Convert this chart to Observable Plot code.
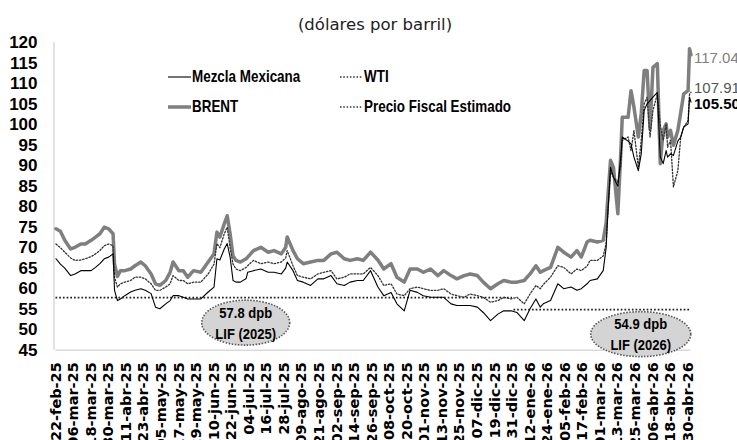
<!DOCTYPE html>
<html><head><meta charset="utf-8">
<script src="https://cdn.jsdelivr.net/npm/d3@7"></script>
<script src="https://cdn.jsdelivr.net/npm/@observablehq/plot@0.6"></script>
<style>
body{margin:0;background:#fff;}
#wrap{position:relative;width:737px;height:440px;overflow:hidden;background:#fff;}
#wrap svg{position:absolute;left:0;top:0;}
#title{position:absolute;top:15px;left:375px;transform:translateX(-50%);font:16.5px "DejaVu Sans",sans-serif;color:#222;white-space:nowrap;z-index:2;}
</style></head><body>
<div id="wrap"><div id="title">(dólares por barril)</div></div>
<script>
const dates = ["2025-02-22","2025-02-25","2025-02-28","2025-03-04","2025-03-07","2025-03-11","2025-03-14","2025-03-18","2025-03-21","2025-03-24",
"2025-03-27","2025-03-30","2025-04-02","2025-04-03","2025-04-05","2025-04-07","2025-04-10","2025-04-14","2025-04-17","2025-04-21",
"2025-04-24","2025-04-28","2025-05-01","2025-05-04","2025-05-08","2025-05-11","2025-05-13","2025-05-17","2025-05-20","2025-05-23",
"2025-05-27","2025-06-01","2025-06-06","2025-06-10","2025-06-12","2025-06-14","2025-06-17","2025-06-19","2025-06-21","2025-06-23",
"2025-06-25","2025-06-28","2025-07-02","2025-07-03","2025-07-07","2025-07-12","2025-07-17","2025-07-21","2025-07-26","2025-07-29",
"2025-07-30","2025-08-03","2025-08-06","2025-08-10","2025-08-15","2025-08-20","2025-08-24","2025-08-29","2025-09-02","2025-09-07",
"2025-09-11","2025-09-16","2025-09-20","2025-09-25","2025-09-30","2025-10-04","2025-10-09","2025-10-13","2025-10-18","2025-10-22",
"2025-10-27","2025-10-31","2025-11-05","2025-11-10","2025-11-14","2025-11-19","2025-11-23","2025-11-28","2025-12-02","2025-12-07",
"2025-12-11","2025-12-16","2025-12-21","2025-12-25","2025-12-30","2026-01-03","2026-01-08","2026-01-12","2026-01-16","2026-01-19",
"2026-01-21","2026-01-26","2026-01-31","2026-02-04","2026-02-09","2026-02-13","2026-02-16","2026-02-20","2026-02-22","2026-02-27",
"2026-03-03","2026-03-05","2026-03-06","2026-03-08","2026-03-10","2026-03-13","2026-03-15","2026-03-16","2026-03-20","2026-03-22",
"2026-03-24","2026-03-27","2026-03-29","2026-03-31","2026-04-02","2026-04-04","2026-04-06","2026-04-09","2026-04-11","2026-04-13",
"2026-04-15","2026-04-16","2026-04-18","2026-04-20","2026-04-23","2026-04-25","2026-04-27","2026-04-30","2026-05-01","2026-05-02"];

const brent = [74.6,74.0,71.8,69.7,70.1,70.9,70.9,71.8,72.6,73.4,
75.0,74.6,73.4,66.0,63.0,64.4,64.4,64.8,65.6,66.5,
65.6,63.6,61.2,60.8,62.0,64.0,66.5,64.4,64.4,62.8,
64.4,64.0,66.5,68.5,73.8,72.6,75.8,77.8,73.4,68.0,
66.9,66.5,67.3,67.7,69.3,70.1,68.9,69.3,68.5,70.1,
72.6,69.3,67.3,66.1,66.5,66.9,66.9,68.5,68.9,67.3,
66.9,67.3,66.9,68.9,67.0,64.8,66.1,62.8,61.6,64.8,
64.8,64.0,64.8,63.2,64.4,63.2,62.4,63.2,63.6,63.2,
61.6,60.0,61.2,62.0,61.6,61.6,62.0,63.6,65.6,64.0,
64.4,65.2,70.1,68.9,67.7,69.3,67.7,71.4,71.8,71.4,
71.8,76.0,81.5,91.3,89.6,78.3,93.0,101.8,101.8,108.3,
104.3,97.0,102.7,113.2,113.2,99.0,114.0,114.9,90.5,98.6,
100.2,97.0,98.6,95.0,98.6,103.0,107.5,108.3,118.5,117.04];

const wti = [70.9,70.0,68.9,67.5,66.9,67.0,67.3,67.8,68.5,69.3,
70.5,70.9,70.5,62.8,60.4,61.2,61.6,62.0,62.8,62.8,
62.4,61.2,59.6,59.6,60.4,61.2,63.2,62.0,62.0,61.2,
61.6,61.6,63.6,66.0,71.0,70.0,73.4,75.0,70.0,66.0,
64.8,64.4,65.2,65.6,66.9,66.1,66.5,66.1,66.5,67.5,
69.3,65.6,63.2,62.8,62.4,63.6,64.0,64.4,62.4,62.8,
63.6,63.6,63.6,65.2,63.2,60.8,61.2,58.7,58.3,60.0,
60.4,60.0,59.6,59.6,60.0,58.7,58.3,57.9,58.7,58.3,
57.9,56.7,57.1,57.9,57.5,57.9,56.3,58.7,60.8,60.0,
61.0,62.8,65.6,65.2,63.6,64.8,64.4,65.5,66.9,66.9,
68.0,71.0,77.5,88.8,87.2,86.0,90.0,96.2,97.0,93.7,
98.6,89.6,96.2,105.1,106.7,97.0,103.5,107.5,100.0,96.2,
100.2,94.5,96.2,84.8,88.8,97.0,99.4,101.0,107.5,107.91];

const mezcla = [67.3,66.0,65.0,63.2,63.6,64.4,64.4,64.4,65.2,66.1,
67.3,67.7,68.5,59.6,57.1,57.5,58.3,59.2,59.6,60.0,
59.6,58.8,55.5,55.1,56.3,57.1,58.3,58.3,57.9,57.5,
57.5,57.5,59.2,60.4,67.3,67.0,69.7,71.0,67.7,62.0,
61.6,61.6,62.5,64.0,64.4,64.8,64.0,64.0,63.6,65.0,
66.5,64.4,62.0,61.6,60.8,62.4,62.4,63.2,61.2,60.8,
61.6,62.0,62.0,64.4,60.4,58.3,59.1,56.3,54.6,59.6,
59.1,58.3,57.9,57.9,57.9,56.3,55.9,55.9,55.9,55.5,
54.2,52.2,53.8,54.6,54.6,54.2,52.2,55.1,57.5,55.5,
56.3,57.1,61.2,60.0,60.4,59.6,60.0,61.2,62.0,62.4,
64.4,70.0,77.5,89.6,87.2,85.0,92.1,97.0,96.0,95.3,
92.1,88.8,92.9,103.5,105.1,105.9,106.7,107.9,92.1,90.5,
93.7,92.1,92.9,92.5,96.0,97.0,99.4,100.2,106.7,105.50];

const fiscalStart = ["2025-02-22","2026-01-01"];
const fiscalEnd = ["2025-12-31","2026-05-02"];
const fiscalValue = [57.8, 54.9];
const annotText1 = ["57.8 dpb","54.9 dpb"];
const annotText2 = ["LIF (2025)","LIF (2026)"];
const annotDate = ["2025-07-02","2026-03-29"];
const annotValue = [51.6, 48.8];

const yTicks = [45,50,55,60,65,70,75,80,85,90,95,100,105,110,115,120];
const xTickLabels = ["22-feb-25","06-mar-25","18-mar-25","30-mar-25","11-abr-25","23-abr-25","05-may-25","17-may-25","29-may-25",
"10-jun-25","22-jun-25","04-jul-25","16-jul-25","28-jul-25","09-ago-25","21-ago-25","02-sep-25","14-sep-25","26-sep-25",
"08-oct-25","20-oct-25","01-nov-25","13-nov-25","25-nov-25","07-dic-25","19-dic-25","31-dic-25","12-ene-26","24-ene-26",
"05-feb-26","17-feb-26","01-mar-26","13-mar-26","25-mar-26","06-abr-26","18-abr-26","30-abr-26"];
const monthsEs = ["ene","feb","mar","abr","may","jun","jul","ago","sep","oct","nov","dic"];
const seriesNames = ["Mezcla Mexicana","BRENT","WTI","Precio Fiscal Estimado"];

const parse = s => new Date(s + "T00:00:00Z");
const parseTick = s => { const [d,m,y] = s.split("-"); return new Date(Date.UTC(2000 + (+y), monthsEs.indexOf(m), +d)); };
const xTicks = xTickLabels.map(parseTick);
const tickLabelMap = new Map(xTicks.map((d,i)=>[+d, xTickLabels[i]]));

const rows = dates.map((d,i)=>({date: parse(d), brent: brent[i], wti: wti[i], mezcla: mezcla[i]}));
const fiscal = fiscalValue.map((v,i)=>({x1: parse(fiscalStart[i]), x2: parse(fiscalEnd[i]), v}));
const last = rows[rows.length-1];

const ARIAL = '"Liberation Sans",Arial,sans-serif';

const plot = Plot.plot({
  width: 737, height: 440,
  marginLeft: 55.5, marginRight: 46.5, marginTop: 42.2, marginBottom: 90.3,
  style: {background: "transparent", overflow: "visible", fontFamily: ARIAL},
  x: {type: "utc", domain: [parse(dates[0]), parse(dates[dates.length-1])]},
  y: {domain: [45, 120]},
  marks: [
    Plot.ruleY([45], {stroke: "#d9d9d9", strokeWidth: 1.5}),
    Plot.ruleX([parse(dates[0])], {y1: 45, y2: 120, stroke: "#d9d9d9", strokeWidth: 1.5, dx: -2}),
    Plot.axisY({ticks: yTicks, tickSize: 0, tickPadding: 18.5, tickFormat: d => String(d), fontSize: 17, fontWeight: "bold", fill: "#000"}),
    Plot.axisX({ticks: xTicks, tickFormat: d => tickLabelMap.get(+d), tickRotate: -90, tickSize: 0, tickPadding: 12, fontSize: 14.5, fontWeight: "bold", fill: "#000"}),
    Plot.ruleY(fiscal, {x1: "x1", x2: "x2", y: "v", stroke: "#222", strokeWidth: 1.7, strokeDasharray: "1.7 2"}),
    Plot.line(rows, {x: "date", y: "brent", stroke: "#7f7f7f", strokeWidth: 3.5, strokeLinejoin: "round"}),
    Plot.line(rows, {x: "date", y: "wti", stroke: "#333", strokeWidth: 1.3, strokeDasharray: "1.5 1.8"}),
    Plot.line(rows, {x: "date", y: "mezcla", stroke: "#000", strokeWidth: 1.1}),
    Plot.text([last], {x: "date", y: "brent", text: d => d.brent.toFixed(2), textAnchor: "start", dx: 3, dy: 3, fill: "#7f7f7f", fontSize: 15}),
    Plot.text([last], {x: "date", y: "wti", text: d => d.wti.toFixed(2), textAnchor: "start", dx: 3, dy: -4.5, fill: "#555", fontSize: 15}),
    Plot.text([last], {x: "date", y: "mezcla", text: d => d.mezcla.toFixed(2), textAnchor: "start", dx: 3, dy: 2.5, fill: "#000", fontSize: 15, fontWeight: "bold"})
  ]
});

document.getElementById("wrap").appendChild(plot);
const svg = d3.select(plot);
svg.selectAll('[aria-label="y-axis tick label"] text').style("font-family", ARIAL);
svg.selectAll('[aria-label="x-axis tick label"] text').style("font-family", '"DejaVu Sans",sans-serif');

// condensed bold text helper (narrow look)
function narrowText(g, x, y, str, size, anchor) {
  return g.append("text")
    .attr("transform", `translate(${x},${y}) scale(0.84,1)`)
    .attr("text-anchor", anchor).attr("dominant-baseline", "central")
    .attr("font-family", ARIAL).attr("font-weight", "bold").attr("font-size", size)
    .attr("fill", "#000").text(str);
}

// annotations (ellipses) positioned through the plot's scales
const xs = plot.scale("x"), ys = plot.scale("y");
const ellipseRx = [44, 50], ellipseRy = 22.5;
const ag = svg.append("g");
annotDate.forEach((d,i)=>{
  const cx = xs.apply(parse(d)), cy = ys.apply(annotValue[i]);
  ag.append("ellipse").attr("cx",cx).attr("cy",cy).attr("rx",ellipseRx[i]).attr("ry",ellipseRy)
    .attr("fill","#d4d4d4").attr("stroke","#555").attr("stroke-width",1.6).attr("stroke-dasharray","1.5 1.5");
  narrowText(ag, cx, cy-10.5, annotText1[i], 15.5, "middle");
  narrowText(ag, cx, cy+10.5, annotText2[i], 15.5, "middle");
});

// legend
const lg = svg.append("g");
const legendItems = [
  {name: seriesNames[0], x: 168, y: 77, stroke: "#000", w: 1.1, dash: null},
  {name: seriesNames[1], x: 168, y: 107, stroke: "#7f7f7f", w: 3.5, dash: null},
  {name: seriesNames[2], x: 340, y: 77, stroke: "#333", w: 1.3, dash: "1.5 1.8"},
  {name: seriesNames[3], x: 340, y: 107, stroke: "#333", w: 1.3, dash: "1.5 1.8"}
];
legendItems.forEach(it=>{
  const l = lg.append("line").attr("x1",it.x).attr("x2",it.x+23).attr("y1",it.y).attr("y2",it.y)
    .attr("stroke",it.stroke).attr("stroke-width",it.w);
  if (it.dash) l.attr("stroke-dasharray", it.dash);
  narrowText(lg, it.x+24, it.y, it.name, 16, "start");
});
</script>
</body></html>
